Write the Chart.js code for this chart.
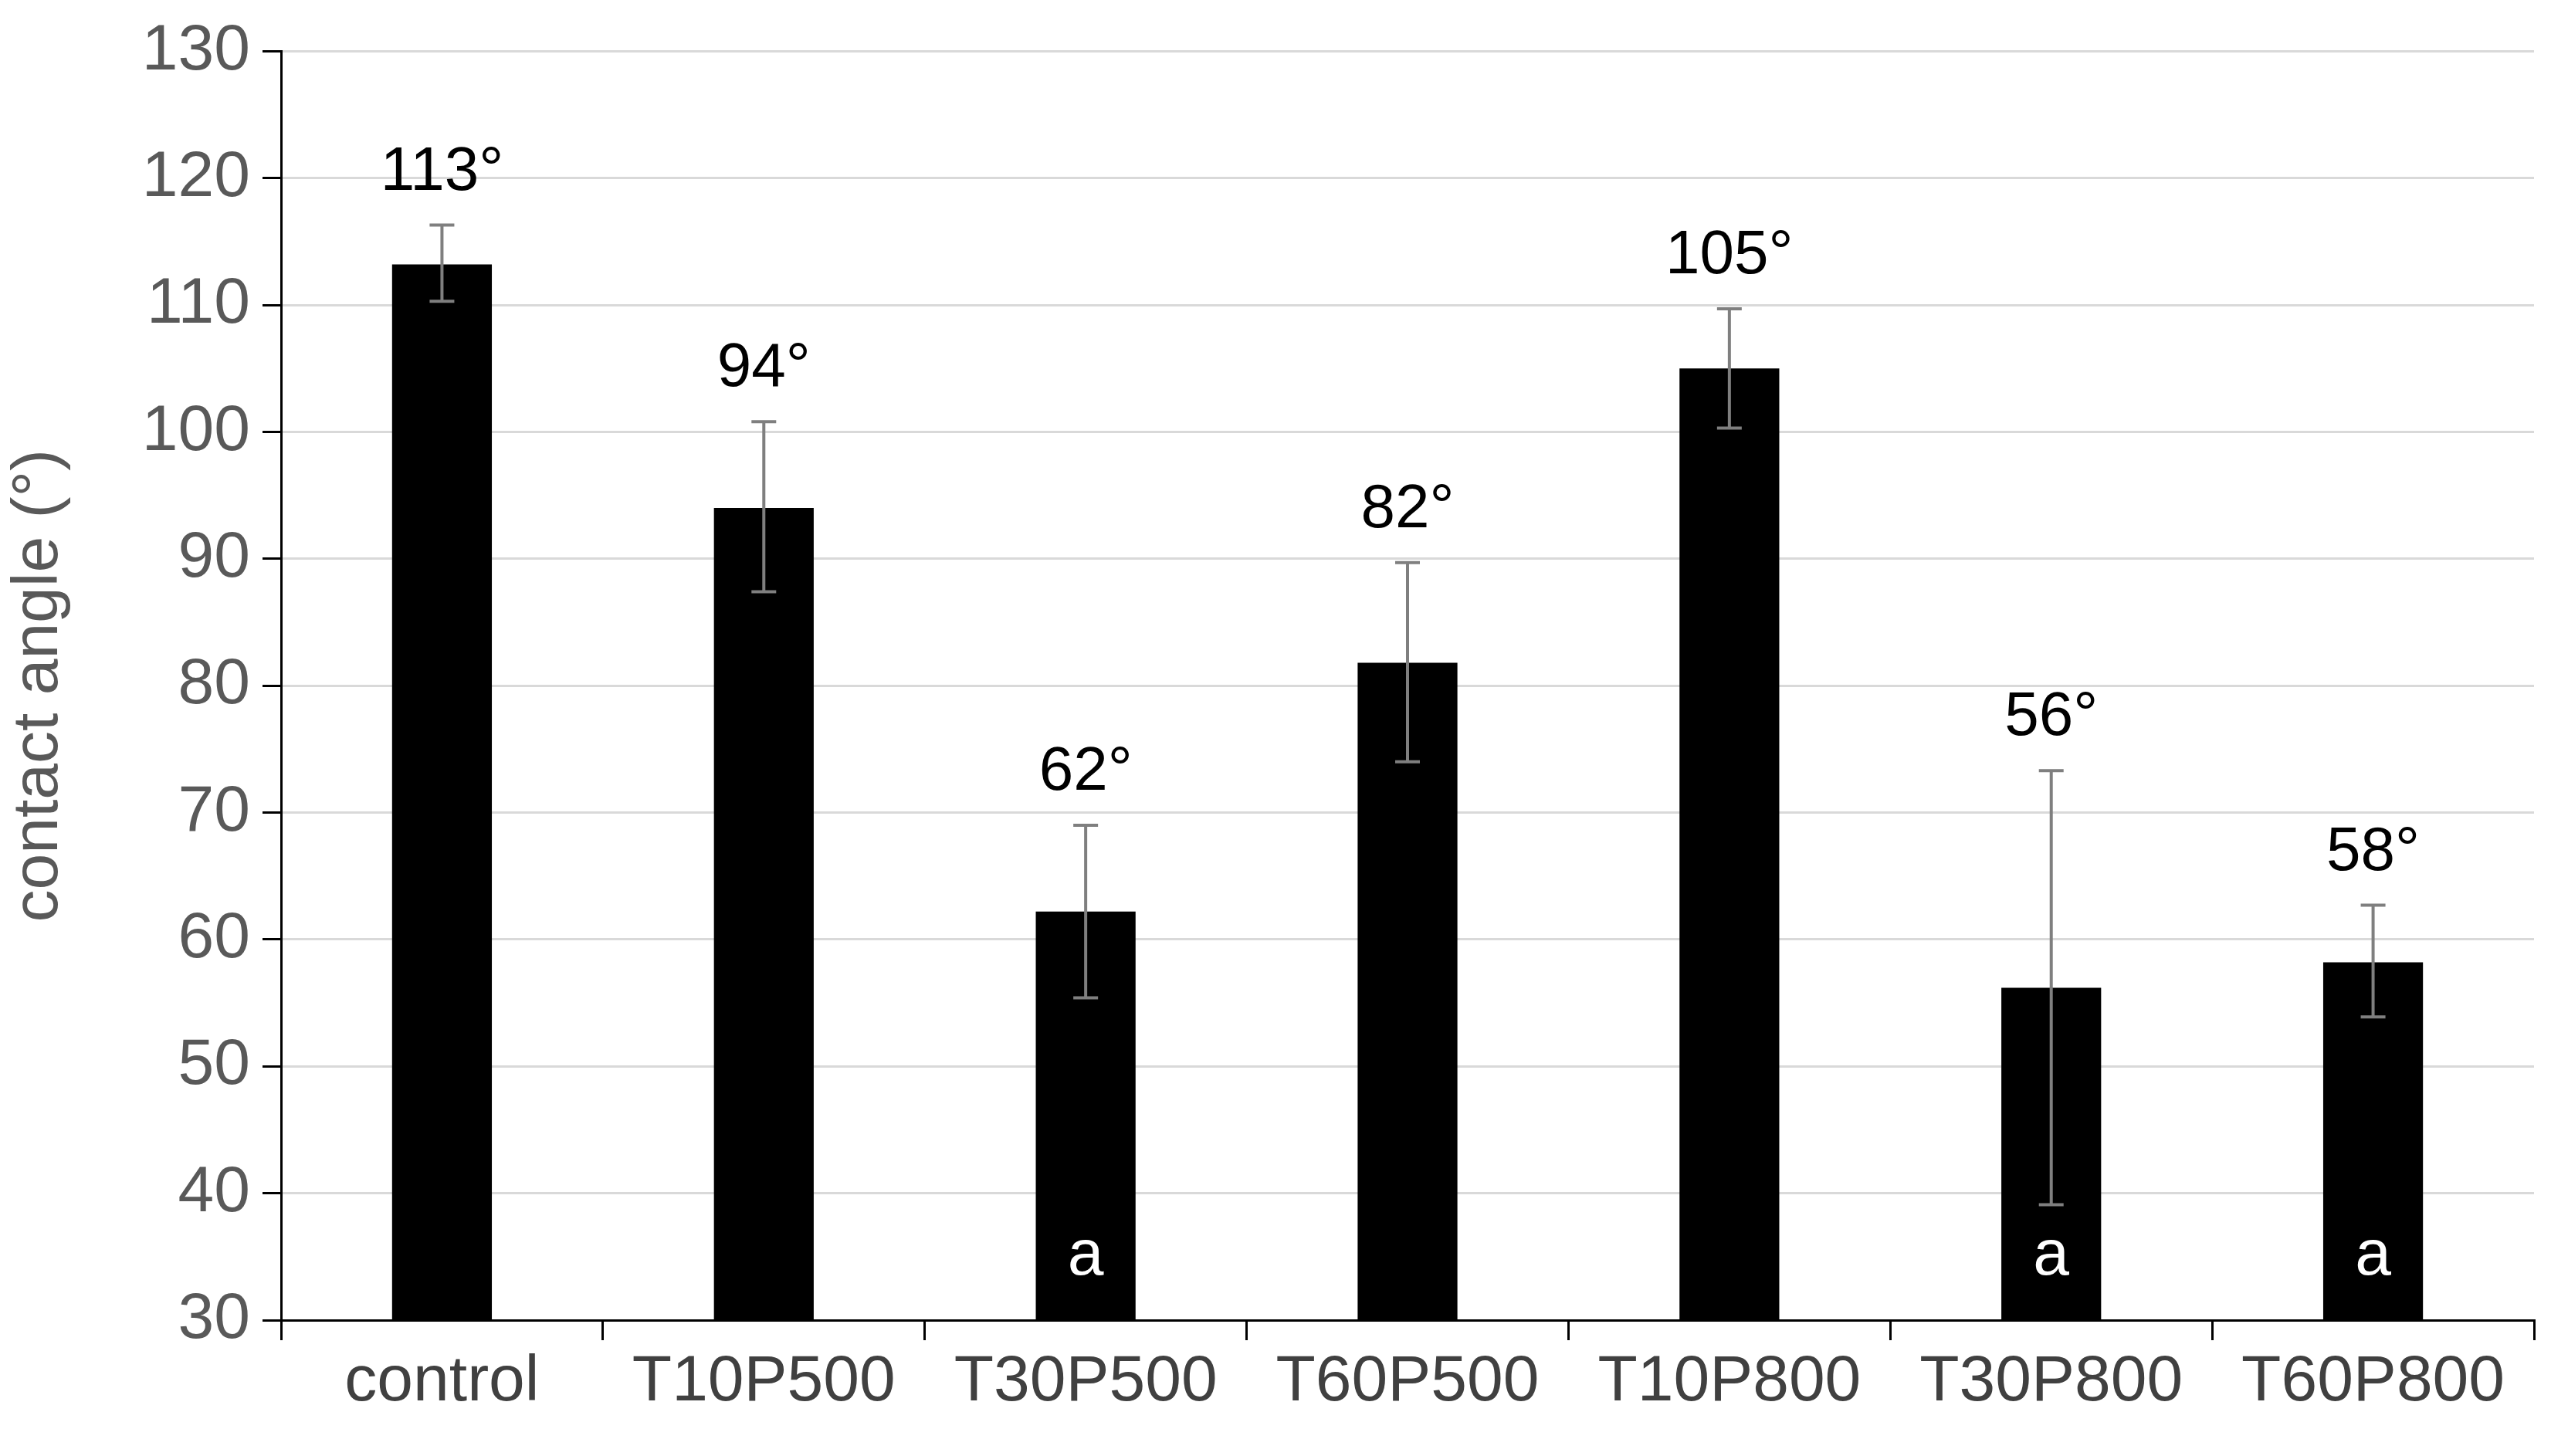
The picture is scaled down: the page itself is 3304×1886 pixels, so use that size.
<!DOCTYPE html>
<html><head><meta charset="utf-8">
<script src="https://cdn.jsdelivr.net/npm/chart.js@4"></script>
<style>html,body{margin:0;padding:0;background:#fff}#wrap{width:3304px;height:1886px}</style>
</head><body><div id="wrap"><canvas id="c" width="3304" height="1886"></canvas></div>
<script>
const categories = ["control","T10P500","T30P500","T60P500","T10P800","T30P800","T60P800"];
const values = [113.2, 94.0, 62.2, 81.8, 105.0, 56.2, 58.2];
const errUpper = [116.3, 100.8, 69.0, 89.7, 109.7, 73.3, 62.7];
const errLower = [110.3, 87.4, 55.4, 74.0, 100.3, 39.1, 53.9];
const valueLabels = ["113°","94°","62°","82°","105°","56°","58°"];
const letters = ["","","a","","","a","a"];
const yTicks = [30,40,50,60,70,80,90,100,110,120,130];

const FONT = "'Liberation Sans', Arial, sans-serif";
const extras = {
  id: 'extras',
  afterDatasetsDraw(chart) {
    const ctx = chart.ctx, x = chart.scales.x, y = chart.scales.y;
    ctx.save();
    categories.forEach((c, i) => {
      const px = x.getPixelForValue(i);
      const yt = y.getPixelForValue(errUpper[i]), yb = y.getPixelForValue(errLower[i]);
      ctx.strokeStyle = '#7f7f7f'; ctx.lineWidth = 4;
      ctx.beginPath();
      ctx.moveTo(px, yt); ctx.lineTo(px, yb);
      ctx.moveTo(px - 16, yt); ctx.lineTo(px + 16, yt);
      ctx.moveTo(px - 16, yb); ctx.lineTo(px + 16, yb);
      ctx.stroke();
      ctx.fillStyle = '#000'; ctx.font = '80px ' + FONT;
      ctx.textAlign = 'center'; ctx.textBaseline = 'alphabetic';
      ctx.fillText(valueLabels[i], px, yt - 46);
      if (letters[i]) {
        ctx.fillStyle = '#fff'; ctx.font = '84px ' + FONT; ctx.textBaseline = 'middle';
        ctx.fillText(letters[i], px, y.getPixelForValue(30) - 82);
      }
    });
    ctx.restore();
  }
};

new Chart(document.getElementById('c'), {
  type: 'bar',
  data: { labels: categories, datasets: [{ data: values, backgroundColor: '#000', barPercentage: 0.31, categoryPercentage: 1.0 }] },
  options: {
    responsive: false, animation: false, devicePixelRatio: 1,
    layout: { padding: { top: 30, right: 22, left: 0, bottom: 0 } },
    plugins: { legend: { display: false }, tooltip: { enabled: false } },
    scales: {
      x: {
        grid: { offset: true, drawOnChartArea: false, color: '#000', tickColor: '#000', tickLength: 26, lineWidth: 3 },
        border: { color: '#000', width: 3 },
        ticks: { color: '#404040', font: { family: FONT, size: 84 }, padding: 4, maxRotation: 0 },
        afterFit(s) { s.height = 176; }
      },
      y: {
        min: 30, max: 130,
        afterBuildTicks(s) { s.ticks = yTicks.map(v => ({ value: v })); },
        grid: { color: '#d9d9d9', lineWidth: 3, tickColor: '#000', tickLength: 24 },
        border: { color: '#000', width: 3 },
        ticks: { color: '#595959', font: { family: FONT, size: 84 }, padding: 16 },
        title: { display: true, text: 'contact angle (°)', color: '#595959', font: { family: FONT, size: 84 }, padding: 0 },
        afterFit(s) { s.width = 364; }
      }
    }
  },
  plugins: [extras]
});
</script></body></html>
